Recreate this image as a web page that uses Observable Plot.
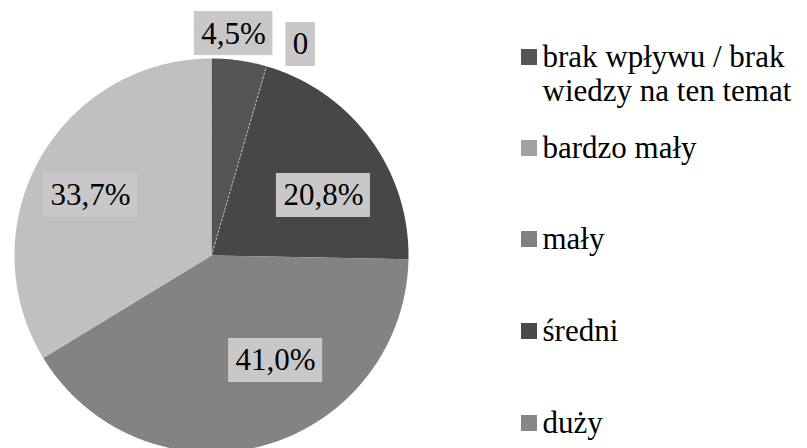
<!DOCTYPE html>
<html><head><meta charset="utf-8">
<script src="https://cdn.jsdelivr.net/npm/d3@7"></script>
<script src="https://cdn.jsdelivr.net/npm/@observablehq/plot@0.6"></script>
<style>
body{margin:0;background:#fff}
#chart svg{display:block}
#chart svg text{font-family:"Liberation Serif","DejaVu Serif",serif}
</style>
</head><body><div id="chart"></div>
<script>
// ---- data ----
const categories = ["brak wpływu / brak wiedzy na ten temat", "bardzo mały", "mały", "średni", "duży"];
const values = [4.5, 0, 20.8, 41.0, 33.7];
const sliceColors = ["#555555", "#a0a0a0", "#474747", "#838383", "#c0c0c0"];
const legendColors = ["#555555", "#a0a0a0", "#808080", "#4a4a4a", "#888888"];
const legendLines = [["brak wpływu / brak", "wiedzy na ten temat"], ["bardzo mały"], ["mały"], ["średni"], ["duży"]];

// ---- layout ----
const W = 807, H = 448, CX = 211, CY = 255, R = 197;
const FONT = "Liberation Serif";
const LABEL_SIZE = 31, LEGEND_SIZE = 31;
const labelPolar = [[5.7, 223], [22.9, 229], [61.8, 127], [148.6, 123], [296.4, 135]];
const LX = 521, LSW = 16, legendRowY = [57, 148, 239, 331, 423], legendLineGap = 34;

const fmt = v => v === 0 ? "0" : v.toFixed(1).replace(".", ",") + "%";
const rows = categories.map((c, i) => ({key: c, value: values[i], color: sliceColors[i], i}));
const arcs = d3.pie().sort(null).value(d => d.value)(rows);

const slicePts = [];
const zeroLines = [];
for (const a of arcs) {
  const span = a.endAngle - a.startAngle;
  if (span <= 0) {
    zeroLines.push({x1: CX, y1: CY, x2: CX + R * Math.sin(a.startAngle), y2: CY - R * Math.cos(a.startAngle)});
    continue;
  }
  slicePts.push({key: a.data.key, color: a.data.color, x: CX, y: CY});
  const n = Math.max(2, Math.ceil(span / 0.005));
  for (let k = 0; k <= n; k++) {
    const t = a.startAngle + span * k / n;
    slicePts.push({key: a.data.key, color: a.data.color, x: CX + R * Math.sin(t), y: CY - R * Math.cos(t)});
  }
  slicePts.push({key: a.data.key, color: a.data.color, x: CX, y: CY});
}

const ctx = document.createElement("canvas").getContext("2d");
ctx.font = `${LABEL_SIZE}px "${FONT}"`;
const labels = rows.map((d, i) => {
  const t = labelPolar[i][0] * Math.PI / 180, r = labelPolar[i][1];
  const text = fmt(d.value);
  const x = CX + r * Math.sin(t), y = CY - r * Math.cos(t);
  const w = ctx.measureText(text).width;
  return {text, x, y, x1: x - w / 2 - 7, x2: x + w / 2 + 7, y1: y - 22, y2: y + 22};
});

const legendSw = rows.map((d, i) => ({x1: LX, x2: LX + LSW, y1: legendRowY[i] - LSW / 2, y2: legendRowY[i] + LSW / 2, color: legendColors[i]}));
const legendText = [];
rows.forEach((d, i) => legendLines[i].forEach((line, j) => legendText.push({text: line, x: LX + LSW + 5, y: legendRowY[i] + 9 + j * legendLineGap})));

const chart = Plot.plot({
  width: W, height: H, margin: 0,
  style: {background: "#fff"},
  x: {domain: [0, W], range: [0, W], axis: null},
  y: {domain: [0, H], range: [0, H], axis: null},
  color: {type: "identity"},
  marks: [
    Plot.line(slicePts, {x: "x", y: "y", z: "key", fill: "color", stroke: "none"}),
    Plot.link(zeroLines, {x1: "x1", y1: "y1", x2: "x2", y2: "y2", stroke: "#c8c8c8", strokeWidth: 1, strokeDasharray: "2,2"}),
    Plot.rect(labels, {x1: "x1", x2: "x2", y1: "y1", y2: "y2", fill: "#c8c8c8"}),
    Plot.text(labels, {x: "x", y: "y", text: "text", fontSize: LABEL_SIZE, fill: "#000"}),
    Plot.rect(legendSw, {x1: "x1", x2: "x2", y1: "y1", y2: "y2", fill: "color"}),
    Plot.text(legendText, {x: "x", y: "y", text: "text", textAnchor: "start", lineAnchor: "bottom", fontSize: LEGEND_SIZE, fill: "#000"})
  ]
});
document.getElementById("chart").append(chart);
</script>
</body></html>
